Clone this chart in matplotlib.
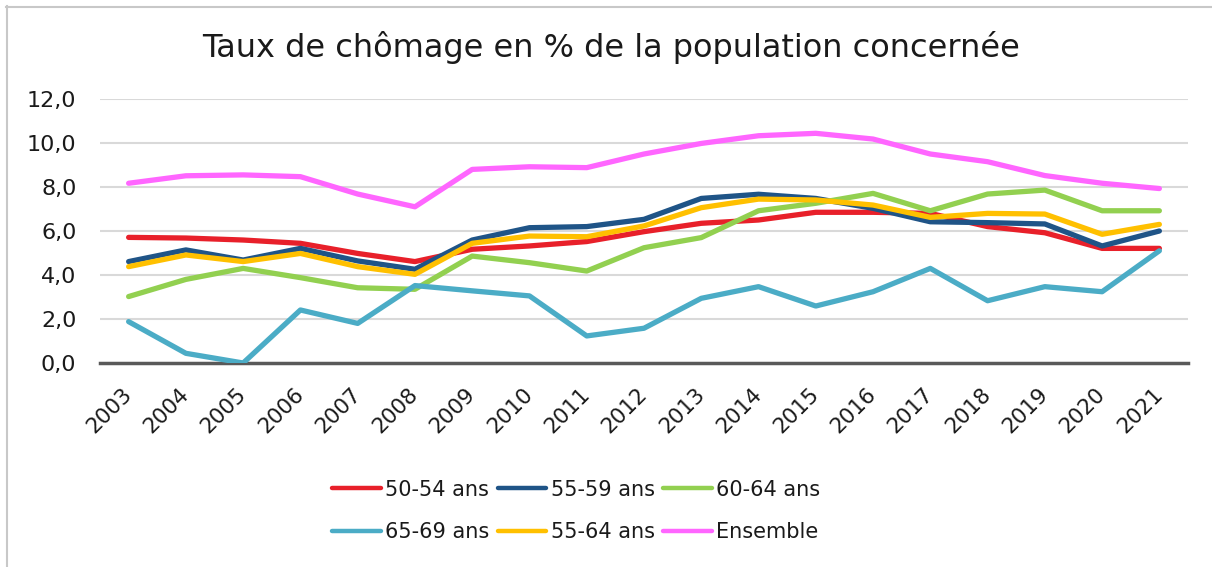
import matplotlib
matplotlib.use("Agg")
import matplotlib.pyplot as plt
from matplotlib.lines import Line2D
from matplotlib.ticker import FuncFormatter

# ── data ─────────────────────────────────────────────────────────────────────

years = list(range(2003, 2022))

ages_50_54 = [5.71, 5.68, 5.59, 5.44, 4.98, 4.61, 5.17, 5.32, 5.52, 5.97,
              6.35, 6.50, 6.85, 6.85, 6.80, 6.20, 5.92, 5.21, 5.21]
ages_55_59 = [4.61, 5.14, 4.68, 5.21, 4.64, 4.26, 5.59, 6.15, 6.20, 6.53,
              7.48, 7.67, 7.48, 7.03, 6.42, 6.38, 6.32, 5.32, 6.00]
ages_60_64 = [3.02, 3.80, 4.30, 3.88, 3.42, 3.35, 4.86, 4.56, 4.18, 5.24,
              5.70, 6.92, 7.26, 7.71, 6.92, 7.68, 7.86, 6.92, 6.92]
ages_65_69 = [1.88, 0.44, 0.00, 2.41, 1.80, 3.52, 3.28, 3.05, 1.23, 1.58,
              2.94, 3.47, 2.59, 3.24, 4.30, 2.83, 3.47, 3.24, 5.10]
ages_55_64 = [4.38, 4.91, 4.61, 4.98, 4.38, 4.03, 5.44, 5.77, 5.74, 6.23,
              7.06, 7.45, 7.41, 7.18, 6.62, 6.80, 6.77, 5.85, 6.30]
ensemble   = [8.17, 8.51, 8.55, 8.47, 7.68, 7.10, 8.80, 8.92, 8.88, 9.50,
              9.98, 10.33, 10.44, 10.18, 9.50, 9.15, 8.52, 8.17, 7.93]

series_labels = ["50-54 ans", "55-59 ans", "60-64 ans",
                 "65-69 ans", "55-64 ans", "Ensemble"]
series_values = [ages_50_54, ages_55_59, ages_60_64,
                 ages_65_69, ages_55_64, ensemble]

title = "Taux de chômage en % de la population concernée"

# ── colours ──────────────────────────────────────────────────────────────────

COLORS = ["#e8202a", "#1f5487", "#92d050", "#4bacc6", "#ffc000", "#ff66ff"]
GRID   = "#d9d9d9"
ZERO   = "#595959"
BORDER = "#c8c8c8"
TEXT   = "#1a1a1a"

plt.rcParams["font.family"] = ["DejaVu Sans"]

W, H = 1212, 567
fig = plt.figure(figsize=(W / 100, H / 100), dpi=100)
fig.patch.set_facecolor("white")

# outer frame (only top and left visible in the reference)
fig.add_artist(Line2D([6 / W, 1.0], [1 - 7 / H, 1 - 7 / H],
                      transform=fig.transFigure, color=BORDER, lw=1.5))
fig.add_artist(Line2D([7 / W, 7 / W], [0.0, 1 - 6 / H],
                      transform=fig.transFigure, color=BORDER, lw=1.5))

ax = fig.add_axes([100 / W, 1 - 363 / H, (1188 - 100) / W, (363 - 99) / H])

handles = []
for vals, lab, col in zip(series_values, series_labels, COLORS):
    h, = ax.plot(years, vals, color=col, lw=3.8, label=lab,
                 solid_capstyle="round", solid_joinstyle="round", zorder=3)
    handles.append(h)

ax.set_xlim(years[0] - 0.5, years[-1] + 0.5)
ax.set_ylim(0, 12)
ax.set_yticks(range(0, 13, 2))
ax.yaxis.set_major_formatter(FuncFormatter(lambda v, _: f"{v:.1f}".replace(".", ",")))
ax.set_xticks(years)
ax.set_xticklabels([str(y) for y in years], rotation=45, ha="right",
                   rotation_mode="anchor", va="center")

ax.grid(axis="y", color=GRID, lw=1.5, zorder=0)
ax.axhline(0, color=ZERO, lw=2.5, zorder=2, clip_on=False)
for s in ax.spines.values():
    s.set_visible(False)
ax.tick_params(axis="y", length=0, pad=17, labelsize=16, labelcolor=TEXT)
ax.tick_params(axis="x", length=0, pad=20, labelsize=15.5, labelcolor=TEXT)

fig.text(611 / W, 1 - 47 / H, title, ha="center", va="center",
         fontsize=23, color=TEXT)

# legend is filled column by column -> reorder so it reads row by row
order = [0, 3, 1, 4, 2, 5]
leg = ax.legend([handles[i] for i in order], [series_labels[i] for i in order],
                loc="center", bbox_to_anchor=(576 / W, 1 - 511 / H),
                bbox_transform=fig.transFigure, ncol=3, frameon=False,
                fontsize=15, handlelength=2.35, handletextpad=0.2,
                columnspacing=0.4, labelspacing=1.1, labelcolor=TEXT)
for lh in leg.legend_handles:
    lh.set_linewidth(3.2)

fig.savefig("out.png", dpi=100, facecolor="white")
